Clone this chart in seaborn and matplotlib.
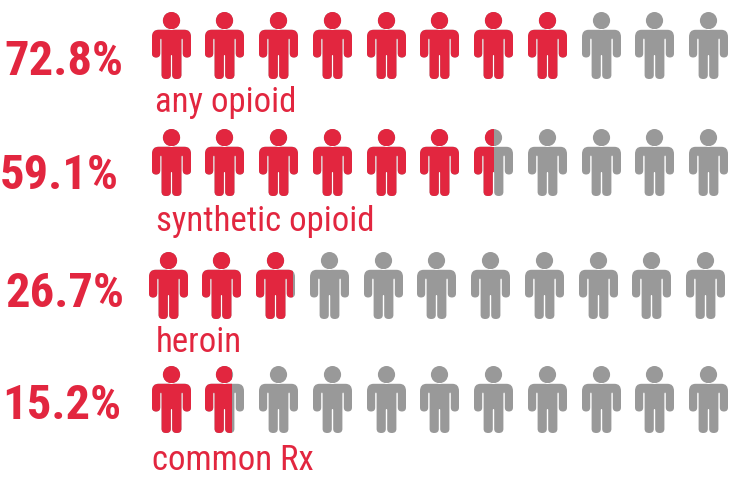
import math

import matplotlib

matplotlib.use("Agg")   # no display needed
import matplotlib.pyplot as plt
import pandas as pd
import seaborn as sns
from matplotlib import font_manager
from matplotlib.patches import Rectangle
from matplotlib.path import Path

# ── Data ─────────────────────────────────────────────────────────────────────
categories = ["any opioid", "synthetic opioid", "heroin", "common Rx"]
percents = [72.8, 59.1, 26.7, 15.2]
pct_labels = ["72.8%", "59.1%", "26.7%", "15.2%"]
n_people = 11

# ── Layout (pixels, axes run 0-731 / 482-0) ──────────────────────────────────
RED = "#E2263F"
GREY = "#999999"
PITCH = 53.75
PERSON_W = 39
PERSON_H = 67
row_first_x = [170.5, 170.5, 167.5, 170.5]
row_top_y = [11, 128, 251, 365]
pct_x = [4, 0, 5, 2]
pct_base = [75, 189, 307, 419]
label_x = [155, 156, 156, 152]
label_base = [112, 231, 352, 470]


def pick_font():
    """Narrowest family we can find, the reference uses a condensed face."""
    for name in ["Roboto Condensed", "Roboto"]:
        try:
            font_manager.findfont(name, fallback_to_default=False)
            return name
        except ValueError:
            continue
    return "DejaVu Sans"


def person_marker():
    """Pictogram as a compound path, centred on (0, 0), y pointing down."""
    verts, codes = [(0, 17.8)], [Path.MOVETO]

    def line(x, y):
        verts.append((x, y))
        codes.append(Path.LINETO)

    def curve(cx, cy, x, y):
        verts.extend([(cx, cy), (x, y)])
        codes.extend([Path.CURVE3, Path.CURVE3])

    # left half, top centre down to the crotch
    line(-13, 17.8)
    curve(-19.5, 17.8, -19.5, 25)
    line(-19.5, 41.5)
    curve(-19.5, 45.5, -15.4, 45.5)
    curve(-11.3, 45.5, -11.3, 41.5)
    line(-11.3, 28)
    curve(-11.3, 26.6, -10.6, 26.6)
    curve(-9.9, 26.6, -9.9, 28)
    line(-9.9, 63)
    curve(-9.9, 67, -5.3, 67)
    curve(-0.7, 67, -0.7, 63)
    line(-0.7, 44)
    curve(-0.7, 43, 0, 43)
    # right half, back up to the top
    curve(0.7, 43, 0.7, 44)
    line(0.7, 63)
    curve(0.7, 67, 5.3, 67)
    curve(9.9, 67, 9.9, 63)
    line(9.9, 28)
    curve(9.9, 26.6, 10.6, 26.6)
    curve(11.3, 26.6, 11.3, 28)
    line(11.3, 41.5)
    curve(11.3, 45.5, 15.4, 45.5)
    curve(19.5, 45.5, 19.5, 41.5)
    line(19.5, 25)
    curve(19.5, 17.8, 13, 17.8)
    line(0, 17.8)
    verts.append((0, 17.8))
    codes.append(Path.CLOSEPOLY)

    body = Path(verts, codes)
    head = Path.circle((0, 8.6), 8.6)
    both = Path.make_compound_path(body, head)
    # scatter markers have y up, and get scaled by their largest coordinate
    return Path([(x, PERSON_H / 2 - y) for x, y in both.vertices], both.codes)


sns.set_theme(style="white")
plt.rcParams["font.family"] = [pick_font(), "DejaVu Sans"]

fig, ax = plt.subplots(figsize=(7.31, 4.82), dpi=100)
ax.set_position([0, 0, 1, 1])

marker = person_marker()
marker_size = (PERSON_H * 72 / 100) ** 2

for r, pct in enumerate(percents):
    filled = pct / 100 * n_people
    row = pd.DataFrame({"person": range(n_people)})
    row["x"] = row_first_x[r] + PITCH * row["person"]
    row["y"] = row_top_y[r] + PERSON_H / 2

    sns.scatterplot(data=row, x="x", y="y", marker=marker, s=marker_size,
                    color=GREY, linewidth=0, ax=ax, legend=False)

    # red copy, cut at the exact share of the last person
    n_red = math.ceil(filled - 0.01)
    sns.scatterplot(data=row.iloc[:n_red], x="x", y="y", marker=marker, s=marker_size,
                    color=RED, linewidth=0, ax=ax, legend=False)
    whole = math.floor(filled + 0.01)
    cut = row_first_x[r] + PITCH * whole - PERSON_W / 2 + (filled - whole) * PERSON_W
    if filled - whole < 0.01:
        cut = row_first_x[r] + PITCH * (whole - 1) + PERSON_W
    ax.collections[-1].set_clip_path(
        Rectangle((0, 0), cut, 482, transform=ax.transData)
    )

    ax.text(pct_x[r], pct_base[r], pct_labels[r], color=RED, fontsize=35,
            fontweight="bold", va="baseline", ha="left")
    ax.text(label_x[r], label_base[r], categories[r], color=RED, fontsize=25,
            va="baseline", ha="left")

ax.set_xlim(0, 731)
ax.set_ylim(482, 0)
ax.set_axis_off()

fig.savefig("out.png", dpi=100)
plt.close(fig)
